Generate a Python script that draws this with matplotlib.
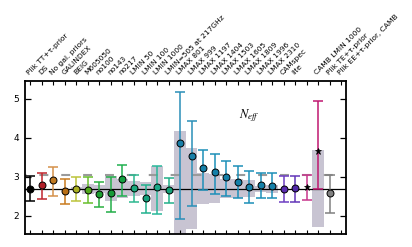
import matplotlib
matplotlib.use("Agg")
import matplotlib.pyplot as plt
import numpy as np

plt.rcParams['font.family'] = ['DejaVu Sans']
plt.rcParams['mathtext.fontset'] = 'stix'

labels = ["Plik TT+τ-prior", "DS", "No gal. priors", "GALINDEX", "BEIG", "M605050",
          "no100", "no143", "no217", "LMIN 50", "LMIN 100", "LMIN 1000",
          "LMIN=505 at 217GHz", "LMAX 801", "LMAX 999", "LMAX 1197", "LMAX 1404",
          "LMAX 1503", "LMAX 1605", "LMAX 1809", "LMAX 1996", "LMAX 2310",
          "CAMspec", "lite", "", "CAMB LMIN 1000", "Plik TE+τ-prior",
          "Plik EE+τ-prior, CAMB"]

neff = [2.70, 2.79, 2.92, 2.65, 2.69, 2.67, 2.56, 2.58, 2.95, 2.72, 2.45, 2.74, 2.67,
        3.87, 3.53, 3.23, 3.13, 3.00, 2.86, 2.74, 2.79, 2.76, 2.69, 2.72, 2.74, 3.66, 2.60]
upper = [3.03, 3.11, 3.26, 2.95, 3.00, 3.01, 2.87, 3.00, 3.31, 3.06, 2.80, 3.28, 2.97,
         5.18, 4.44, 3.69, 3.59, 3.41, 3.27, 3.14, 3.11, 3.09, 3.02, 3.03, 3.06, 4.94, 3.04]
lower = [2.38, 2.43, 2.50, 2.30, 2.39, 2.33, 2.22, 2.11, 2.50, 2.35, 2.08, 2.04, 2.33,
         1.92, 2.26, 2.66, 2.57, 2.51, 2.45, 2.33, 2.45, 2.45, 2.35, 2.37, 2.40, 2.68, 2.08]
shift_hw = [0, 0, 0, 0, 0.03, 0.13, 0.10, 0.32, 0.24, 0.20, 0.16, 0.57, 0.10,
            1.47, 1.03, 0.40, 0.37, 0.25, 0.24, 0.22, 0.08, 0.10, 0, 0, 0, 0.98, 0]
markers = ['o'] * 24 + ['*', '*', 'o']

colors = ['#000000', '#c0262e', '#d4914a', '#c97a1e', '#bcc43a', '#68be2c',
          '#2bb040', '#22ae48', '#20b050', '#2cb890', '#22b28e', '#2ab89a',
          '#22b08a', '#2a8eb8', '#2a90b8', '#1c8fb8', '#1c8fb8', '#1c8fb8',
          '#1c8fb8', '#1c8fb8', '#1c8fb8', '#1c8fb8', '#6e3ec2', '#6236b8',
          '#c8368c', '#c01870', '#808080']
markerfill = ['#000000', '#b01e28', '#c07a22', '#b86e14', '#aab020', '#50a81c',
              '#1c9e30', '#189a38', '#14a040', '#1aa87c', '#14a07c', '#1aa888',
              '#14a078', '#1a7ea8', '#1a80a8', '#1480a8', '#1480a8', '#1480a8',
              '#1480a8', '#1480a8', '#1480a8', '#1480a8', '#5a2cb0', '#5028a8',
              '#000000', '#000000', '#808080']

baseline = 2.70
neff_std = 3.046

fig = plt.figure(figsize=(4.12, 2.47), dpi=100)
ax = fig.add_axes([0.060, 0.0514, 0.779, 0.621])

x = np.arange(len(neff))
ax.bar(x, 2 * np.array(shift_hw), bottom=baseline - np.array(shift_hw), width=1.0,
       color='#c8c4d2', edgecolor='none', zorder=1)
ax.axhline(neff_std, color='#9a9a9a', lw=1.5, ls=(3.6, (4.3, 6.2)), zorder=2)
ax.axhline(baseline, color='black', lw=0.9, zorder=3)

for i in range(len(neff)):
    lo = neff[i] - lower[i]
    hi = upper[i] - neff[i]
    ax.errorbar(x[i], neff[i], yerr=[[lo], [hi]], fmt='none', ecolor=colors[i],
                elinewidth=1.1, capsize=3.8, capthick=1.1, zorder=4)
    if markers[i] == 'o':
        ax.plot(x[i], neff[i], 'o', ms=5, mfc=markerfill[i], mec='black', mew=0.7, zorder=5)
    else:
        ax.plot(x[i], neff[i], '*', ms=5, mfc='black', mec='black', mew=0.5, zorder=5)

ax.text(19.0, 4.56, r'$N_{eff}$', fontsize=9, ha='center', va='center')

ax.set_xlim(-0.5, 27.4)
ax.set_ylim(1.53, 5.46)
ax.set_yticks([2, 3, 4, 5])
ax.set_xticks(np.arange(len(labels)))
ax.xaxis.tick_top()
ax.set_xticklabels(labels, rotation=45, ha='left', rotation_mode='anchor', fontsize=5.4)
ax.tick_params(axis='x', which='both', direction='in', top=True, bottom=True,
               length=3.2, width=0.8, pad=3.5)
ax.tick_params(axis='y', direction='in', left=True, right=True, length=4.5, width=0.9,
               labelsize=6.5, pad=4)
for s in ax.spines.values():
    s.set_linewidth(1.3)

fig.savefig('out.png', dpi=100)
